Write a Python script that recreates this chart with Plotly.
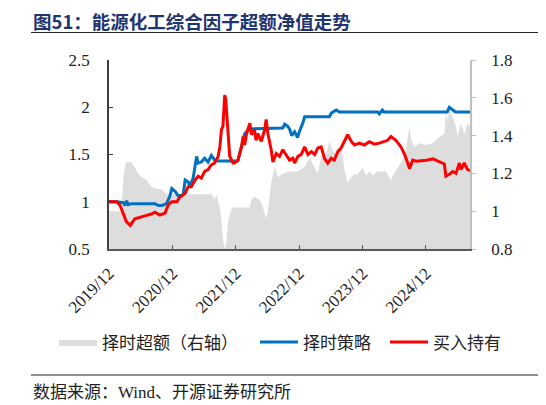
import plotly.graph_objects as go

# 择时策略 (left axis)
strategy_dates = [
    '2019-12-02', '2020-01-15', '2020-02-22', '2020-03-02', '2020-03-12', '2020-03-21',
    '2020-04-10', '2020-08-22', '2020-09-10', '2020-10-01', '2020-10-28', '2020-11-16',
    '2020-11-27', '2020-12-16', '2021-01-04', '2021-02-01', '2021-02-12', '2021-03-02',
    '2021-03-11', '2021-03-30', '2021-04-19', '2021-04-28', '2021-05-16', '2021-06-04',
    '2021-06-24', '2021-07-13', '2021-08-01', '2021-08-21', '2021-12-13', '2022-01-03',
    '2022-01-21', '2022-02-15', '2022-08-28', '2022-09-09', '2022-09-25', '2022-10-07',
    '2022-10-19', '2022-11-05', '2022-11-22', '2022-12-04', '2022-12-22', '2023-01-02',
    '2023-05-24', '2023-06-06', '2023-07-03', '2023-07-21', '2024-02-27', '2024-03-07',
    '2024-03-25', '2024-04-05', '2025-04-03', '2025-04-15', '2025-05-06', '2025-05-20',
    '2025-08-12',
]
strategy_vals = [
    1.00, 1.00, 0.99, 0.96, 1.01, 0.97,
    0.98, 0.98, 0.96, 0.96, 0.98, 1.06,
    1.14, 1.11, 1.06, 1.08, 1.23, 1.21,
    1.16, 1.25, 1.48, 1.41, 1.42, 1.46,
    1.42, 1.49, 1.44, 1.43, 1.43, 1.58,
    1.72, 1.77, 1.78, 1.82, 1.80, 1.77,
    1.70, 1.74, 1.68, 1.75, 1.83, 1.90,
    1.90, 1.94, 1.97, 1.95, 1.95, 1.93,
    1.97, 1.95, 1.95, 2.00, 1.97, 1.95,
    1.95,
]

# 买入持有 (left axis)
hold_dates = [
    '2019-12-02', '2020-01-15', '2020-02-03', '2020-02-22', '2020-03-10', '2020-04-01',
    '2020-04-28', '2020-06-25', '2020-08-02', '2020-08-22', '2020-09-19', '2020-10-19',
    '2020-11-07', '2020-11-27', '2020-12-26', '2021-01-13', '2021-02-12', '2021-03-02',
    '2021-03-20', '2021-04-10', '2021-04-28', '2021-05-16', '2021-06-04', '2021-06-24',
    '2021-07-13', '2021-08-01', '2021-08-21', '2021-08-31', '2021-09-09', '2021-09-18',
    '2021-09-28', '2021-10-04', '2021-10-13', '2021-10-27', '2021-11-15', '2021-11-24',
    '2021-12-13', '2022-01-03', '2022-01-12', '2022-01-21', '2022-02-01', '2022-02-20',
    '2022-03-01', '2022-03-19', '2022-03-28', '2022-04-07', '2022-04-27', '2022-05-16',
    '2022-05-25', '2022-06-04', '2022-06-23', '2022-07-03', '2022-07-22', '2022-08-10',
    '2022-08-29', '2022-09-18', '2022-10-07', '2022-10-26', '2022-11-05', '2022-11-24',
    '2022-12-13', '2023-01-02', '2023-01-21', '2023-02-10', '2023-03-01', '2023-03-19',
    '2023-04-07', '2023-04-26', '2023-05-15', '2023-06-03', '2023-06-22', '2023-07-12',
    '2023-07-31', '2023-08-19', '2023-09-07', '2023-09-27', '2023-10-16', '2023-11-13',
    '2023-12-12', '2024-01-10', '2024-02-08', '2024-03-07', '2024-04-24', '2024-05-13',
    '2024-06-11', '2024-07-10', '2024-07-29', '2024-08-18', '2024-08-28', '2024-09-16',
    '2024-10-05', '2024-12-03', '2025-01-10', '2025-02-08', '2025-03-17', '2025-03-26',
    '2025-04-15', '2025-05-04', '2025-05-23', '2025-06-12', '2025-06-21', '2025-07-10',
    '2025-07-29', '2025-08-12',
]
hold_vals = [
    1.00, 1.00, 0.96, 0.88, 0.79, 0.75,
    0.82, 0.85, 0.87, 0.89, 0.86, 0.88,
    0.97, 1.00, 1.00, 1.05, 1.09, 1.16,
    1.16, 1.23, 1.27, 1.25, 1.32, 1.34,
    1.39, 1.41, 1.48, 1.58, 1.76, 1.80,
    2.13, 2.08, 1.80, 1.48, 1.41, 1.41,
    1.44, 1.58, 1.69, 1.60, 1.72, 1.83,
    1.71, 1.76, 1.65, 1.72, 1.64, 1.76,
    1.87, 1.72, 1.55, 1.42, 1.51, 1.48,
    1.55, 1.50, 1.44, 1.46, 1.41, 1.48,
    1.50, 1.58, 1.50, 1.53, 1.50, 1.57,
    1.58, 1.46, 1.41, 1.46, 1.44, 1.53,
    1.57, 1.64, 1.71, 1.64, 1.60, 1.62,
    1.60, 1.635, 1.61, 1.62, 1.65, 1.69,
    1.65, 1.58, 1.51, 1.41, 1.35, 1.44,
    1.43, 1.44, 1.455, 1.43, 1.40, 1.27,
    1.29, 1.32, 1.30, 1.41, 1.34, 1.41,
    1.34, 1.33,
]

# 择时超额 (right axis)
excess_dates = [
    '2019-12-02', '2020-02-12', '2020-02-22', '2020-03-02', '2020-03-11', '2020-04-09',
    '2020-04-28', '2020-05-17', '2020-06-06', '2020-07-04', '2020-08-02', '2020-08-22',
    '2020-10-01', '2020-10-28', '2021-07-13', '2021-08-01', '2021-08-11', '2021-08-21',
    '2021-08-31', '2021-09-09', '2021-09-18', '2021-09-28', '2021-10-07', '2021-10-16',
    '2021-11-05', '2021-11-15', '2022-02-20', '2022-03-01', '2022-03-19', '2022-04-17',
    '2022-05-05', '2022-05-25', '2022-06-04', '2022-06-23', '2022-07-13', '2022-08-01',
    '2022-08-29', '2022-10-07', '2022-11-15', '2022-12-13', '2023-01-02', '2023-01-31',
    '2023-03-01', '2023-03-19', '2023-04-07', '2023-05-06', '2023-05-24', '2023-06-12',
    '2023-07-01', '2023-07-31', '2023-08-19', '2023-09-07', '2023-09-27', '2023-10-16',
    '2023-10-26', '2023-12-03', '2023-12-22', '2024-01-10', '2024-01-29', '2024-02-27',
    '2024-04-15', '2024-05-13', '2024-06-01', '2024-06-30', '2024-07-19', '2024-08-07',
    '2024-08-28', '2024-09-06', '2024-09-25', '2024-10-24', '2024-12-03', '2025-01-10',
    '2025-02-18', '2025-03-17', '2025-03-26', '2025-04-05', '2025-04-15', '2025-05-04',
    '2025-05-23', '2025-06-02', '2025-06-21', '2025-07-10', '2025-07-29', '2025-08-12',
]
excess_vals = [
    1.00, 1.00, 1.18, 1.235, 1.26, 1.26,
    1.23, 1.20, 1.18, 1.165, 1.13, 1.12,
    1.115, 1.09, 1.09, 1.06, 1.09, 1.06,
    1.02, 0.95, 0.85, 0.80, 0.83, 0.94,
    1.01, 1.02, 1.02, 1.06, 1.077, 1.06,
    1.025, 0.96, 1.005, 1.15, 1.235, 1.18,
    1.20, 1.21, 1.21, 1.22, 1.235, 1.28,
    1.235, 1.20, 1.29, 1.30, 1.37, 1.32,
    1.30, 1.35, 1.22, 1.15, 1.18, 1.20,
    1.19, 1.227, 1.19, 1.21, 1.19, 1.21,
    1.21, 1.165, 1.20, 1.245, 1.27, 1.32,
    1.447, 1.38, 1.34, 1.36, 1.35, 1.36,
    1.394, 1.41, 1.52, 1.48, 1.535, 1.50,
    1.447, 1.394, 1.465, 1.41, 1.465, 1.447,
]

tick_dates = ['2019-12-01', '2020-12-01', '2021-12-01', '2022-12-01', '2023-12-01', '2024-12-01']
tick_text = ['2019/12', '2020/12', '2021/12', '2022/12', '2023/12', '2024/12']

FONT = '"Times New Roman", "Liberation Serif", "Noto Sans CJK SC"'

# the page body has an 8px margin, so the figure is 8px smaller each way
W, H = 538, 397
L, R, T, B = 101, 76, 52, 156
pw, ph = W - L - R, H - T - B


def px_x(x):
    # page pixel -> paper x
    return (x - 8 - L) / pw


def px_y(y):
    # page pixel -> paper y
    return (H - B - (y - 8)) / ph


fig = go.Figure()
fig.add_trace(go.Scatter(
    x=excess_dates, y=excess_vals, name='择时超额（右轴）',
    mode='lines', fill='tozeroy', fillcolor='#DDDDDD',
    line=dict(width=0, color='#DDDDDD'), yaxis='y', legendwidth=148,
))
fig.add_trace(go.Scatter(
    x=strategy_dates, y=strategy_vals, name='择时策略',
    mode='lines', line=dict(width=3, color='#0070C0'), yaxis='y2', legendwidth=77,
))
fig.add_trace(go.Scatter(
    x=hold_dates, y=hold_vals, name='买入持有',
    mode='lines', line=dict(width=3, color='#FF0000'), yaxis='y2', legendwidth=70,
))

fig.update_layout(
    width=W,
    height=H,
    margin=dict(l=L, r=R, t=T, b=B, pad=0),
    paper_bgcolor='white',
    plot_bgcolor='white',
    font=dict(family=FONT, size=17, color='#222222'),
    title=dict(
        text='<b>图51：能源化工综合因子超额净值走势</b>',
        x=25 / W, xanchor='left', xref='container',
        y=1 - 14.5 / H, yanchor='middle', yref='container',
        font=dict(family='Noto Sans CJK SC', size=18.5, color='#1F3570'),
    ),
    xaxis=dict(
        type='date',
        range=['2019-12-01', '2025-08-12'],
        tickvals=tick_dates, ticktext=tick_text,
        tickangle=-45,
        showline=True, linecolor='#595959', linewidth=1.5,
        ticks='inside', ticklen=4, tickcolor='#595959',
        ticklabelstandoff=6,
        showgrid=False, zeroline=False,
    ),
    yaxis=dict(
        side='right',
        range=[0.8, 1.8], dtick=0.2,
        showline=True, linecolor='#BFBFBF', linewidth=1.5,
        ticks='outside', ticklen=4, tickcolor='#BFBFBF',
        ticklabelstandoff=12,
        showgrid=False, zeroline=False,
    ),
    yaxis2=dict(
        side='left', overlaying='y',
        range=[0.5, 2.5], dtick=0.5,
        showline=True, linecolor='#404040', linewidth=1.5,
        ticks='inside', ticklen=4, tickcolor='#404040',
        ticklabelstandoff=14,
        showgrid=False, zeroline=False,
    ),
    legend=dict(
        orientation='h',
        x=px_x(54), xanchor='left',
        y=px_y(342.5), yanchor='middle',
        itemwidth=38,
        font=dict(size=17),
        bgcolor='rgba(0,0,0,0)',
    ),
    shapes=[
        dict(type='line', xref='paper', yref='paper',
             x0=px_x(31), x1=px_x(542), y0=px_y(32.5), y1=px_y(32.5),
             line=dict(color='#222222', width=1)),
        dict(type='line', xref='paper', yref='paper',
             x0=px_x(31), x1=px_x(542), y0=px_y(375), y1=px_y(375),
             line=dict(color='#222222', width=1)),
    ],
    annotations=[
        dict(text='数据来源：Wind、开源证券研究所',
             xref='paper', yref='paper',
             x=px_x(31), xanchor='left',
             y=px_y(392), yanchor='middle',
             showarrow=False, font=dict(size=17, color='#222222')),
    ],
)

fig.write_html('out.html')
